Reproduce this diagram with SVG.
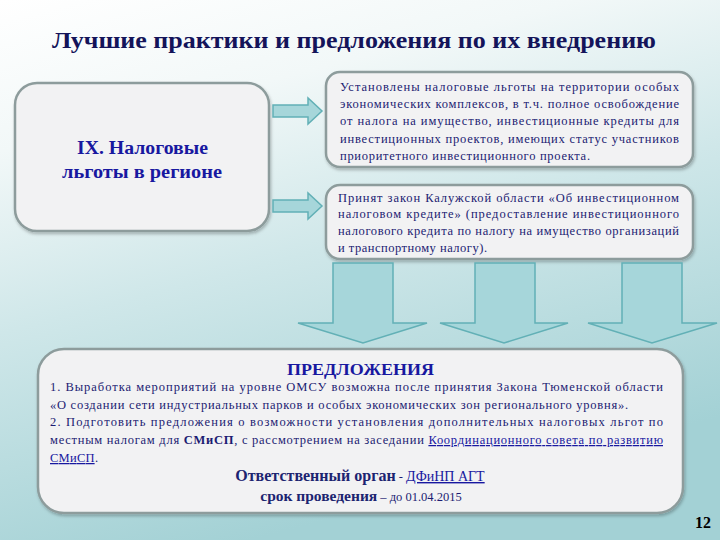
<svg xmlns="http://www.w3.org/2000/svg" width="720" height="540" viewBox="0 0 720 540">
<defs>
<linearGradient id="bg" x1="0" y1="0" x2="0.35" y2="1">
<stop offset="0" stop-color="#ffffff"/>
<stop offset="0.25" stop-color="#f2f8f8"/>
<stop offset="0.55" stop-color="#cfe7e9"/>
<stop offset="1" stop-color="#a3d1d5"/>
</linearGradient>
<filter id="sh" x="-5%" y="-5%" width="110%" height="115%">
<feDropShadow dx="1" dy="2" stdDeviation="1.5" flood-color="#000" flood-opacity="0.25"/>
</filter>
<style>
text{font-family:"Liberation Serif","Times New Roman","DejaVu Serif",serif}
.box{fill:#f2f2f3;stroke:#8d9c9c;stroke-width:2.5;filter:url(#sh)}
.arr{fill:#a6d6da;stroke:#62b0b6;stroke-width:1.5}
.t{font-size:12.5px;fill:#1c1c72}
.h{font-weight:bold;fill:#1818a0}
.b{font-weight:bold}
.u{text-decoration:underline}
</style>
</defs>
<rect width="720" height="540" fill="url(#bg)"/>
<g id="title">
<text x="354" y="48" text-anchor="middle" font-weight="bold" font-size="23" fill="#14145a" textLength="604" lengthAdjust="spacingAndGlyphs">Лучшие практики и предложения по их внедрению</text>
</g>
<g id="node-tax">
<rect class="box" x="15" y="83" width="254" height="148" rx="22"/>
<text class="h" font-size="18"><tspan x="77" y="154" textLength="131" lengthAdjust="spacingAndGlyphs">IX. Налоговые</tspan><tspan x="62" y="178" textLength="160" lengthAdjust="spacingAndGlyphs">льготы в регионе</tspan></text>
</g>
<g id="node-lgoty">
<rect class="box" x="326" y="72" width="367" height="95" rx="14"/>
<text class="t">
<tspan x="340" y="91" textLength="339" lengthAdjust="spacing">Установлены налоговые льготы на территории особых</tspan>
<tspan x="340" y="108" textLength="339" lengthAdjust="spacing">экономических комплексов, в т.ч. полное освобождение</tspan>
<tspan x="340" y="125" textLength="339" lengthAdjust="spacing">от налога на имущество, инвестиционные кредиты для</tspan>
<tspan x="340" y="143" textLength="339" lengthAdjust="spacing">инвестиционных проектов, имеющих статус участников</tspan>
<tspan x="340" y="160" textLength="250" lengthAdjust="spacing">приоритетного инвестиционного проекта.</tspan>
</text>
</g>
<g id="node-zakon">
<rect class="box" x="326" y="185" width="367" height="74" rx="14"/>
<text class="t">
<tspan x="338" y="202" textLength="341" lengthAdjust="spacing">Принят закон Калужской области «Об инвестиционном</tspan>
<tspan x="338" y="218" textLength="341" lengthAdjust="spacing">налоговом кредите» (предоставление инвестиционного</tspan>
<tspan x="338" y="235" textLength="341" lengthAdjust="spacing">налогового кредита по налогу на имущество организаций</tspan>
<tspan x="338" y="252" textLength="149" lengthAdjust="spacing">и транспортному налогу).</tspan>
</text>
</g>
<g id="connectors">
<path class="arr" d="M273,105 H308 V98 L322,111 L308,124 V117 H273 Z"/>
<path class="arr" d="M273,200 H308 V193 L322,206 L308,219 V212 H273 Z"/>
<path class="arr" d="M333,263 H393 V323 H427 L363,343 L298,323 H333 Z"/>
<path class="arr" d="M475,263 H535 V323 H568 L504,343 L440,323 H475 Z"/>
<path class="arr" d="M622,263 H682 V323 H717 L652,343 L588,323 H622 Z"/>
</g>
<g id="node-proposals">
<rect class="box" x="38" y="349" width="645" height="164" rx="26"/>
<text class="h" font-size="17" x="287" y="375" textLength="147" lengthAdjust="spacingAndGlyphs">ПРЕДЛОЖЕНИЯ</text>
<text class="t">
<tspan x="50" y="391" textLength="613" lengthAdjust="spacing">1. Выработка мероприятий на уровне ОМСУ возможна после принятия Закона Тюменской области</tspan>
<tspan x="50" y="409" textLength="578" lengthAdjust="spacing">«О создании сети индустриальных парков и особых экономических зон регионального уровня».</tspan>
<tspan x="50" y="426" textLength="613" lengthAdjust="spacing">2. Подготовить предложения о возможности установления дополнительных налоговых льгот по</tspan>
</text>
<text class="t" x="50" y="444" textLength="613" lengthAdjust="spacing">местным налогам для <tspan class="b">СМиСП</tspan>, с рассмотрением на заседании <tspan class="u" fill="#1818a0">Координационного совета по развитию</tspan></text>
<text class="t" x="50" y="462" textLength="48" lengthAdjust="spacing"><tspan class="u" fill="#1818a0">СМиСП</tspan>.</text>
<text class="t" x="360" y="481" text-anchor="middle"><tspan class="b" font-size="16" fill="#1c2470">Ответственный орган</tspan> - <tspan class="u" fill="#1818a0" font-size="14">ДФиНП АГТ</tspan></text>
<text class="t" x="361" y="501" text-anchor="middle"><tspan class="b" font-size="15.5" fill="#1c2470">срок проведения</tspan> – до 01.04.2015</text>
</g>
<g id="page-number">
<text x="711" y="528" text-anchor="end" font-weight="bold" font-size="16" fill="#000">12</text>
</g>
</svg>
